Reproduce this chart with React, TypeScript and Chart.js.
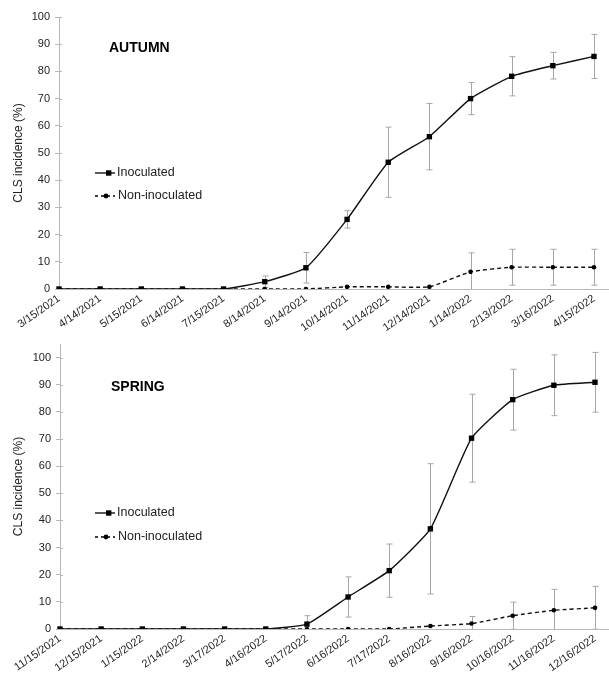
import React, { useEffect, useRef } from 'react';
import { Chart, registerables } from 'chart.js';

Chart.register(...registerables);

// ---- Data ----
const autumnDates = ['3/15/2021', '4/14/2021', '5/15/2021', '6/14/2021', '7/15/2021', '8/14/2021', '9/14/2021', '10/14/2021', '11/14/2021', '12/14/2021', '1/14/2022', '2/13/2022', '3/16/2022', '4/15/2022'];
const autumnInoculated = [0, 0, 0, 0, 0, 2.7, 7.8, 25.6, 46.6, 56.0, 70.0, 78.2, 82.1, 85.5];
const autumnInoculatedErr = [0, 0, 0, 0, 0, 2.1, 5.6, 3.2, 12.9, 12.2, 5.9, 7.2, 4.9, 8.1];
const autumnNonInoculated = [0, 0, 0, 0, 0, 0, 0, 0.8, 0.8, 0.8, 6.3, 8.0, 8.0, 8.0];
const autumnNonInoculatedErr = [0, 0, 0, 0, 0, 0, 0, 0, 0, 0, 7.0, 6.6, 6.6, 6.6];

const springDates = ['11/15/2021', '12/15/2021', '1/15/2022', '2/14/2022', '3/17/2022', '4/16/2022', '5/17/2022', '6/16/2022', '7/17/2022', '8/16/2022', '9/16/2022', '10/16/2022', '11/16/2022', '12/16/2022'];
const springInoculated = [0, 0, 0, 0, 0, 0, 1.8, 11.8, 21.5, 36.9, 70.3, 84.5, 89.8, 90.9];
const springInoculatedErr = [0, 0, 0, 0, 0, 0, 3.1, 7.4, 9.8, 24.0, 16.2, 11.2, 11.2, 11.0];
const springNonInoculated = [0, 0, 0, 0, 0, 0, 0, 0, 0, 1.1, 2.0, 4.9, 6.9, 7.8];
const springNonInoculatedErr = [0, 0, 0, 0, 0, 0, 0, 0, 0, 0, 2.6, 5.0, 7.7, 7.9];

const yAxisTitle = 'CLS incidence (%)';
const seriesNames = ['Inoculated', 'Non-inoculated'];

const FONT = '"Liberation Sans", Arial, Helvetica, sans-serif';
const TEXT = '#222222';
const AXIS = '#b8b8b8';
const ERR = '#a6a6a6';

const errorBarsPlugin = {
  id: 'errorBars',
  beforeDatasetsDraw(chart: any) {
    const { ctx, chartArea, scales } = chart;
    const ys = scales.y;
    ctx.save();
    ctx.beginPath();
    ctx.rect(chartArea.left - 10, chartArea.top - 2, chartArea.right - chartArea.left + 20, chartArea.bottom - chartArea.top + 2);
    ctx.clip();
    ctx.strokeStyle = ERR;
    ctx.lineWidth = 1;
    chart.data.datasets.forEach((ds: any, i: number) => {
      const meta = chart.getDatasetMeta(i);
      const errs: number[] = ds.errors || [];
      meta.data.forEach((pt: any, j: number) => {
        const e = errs[j];
        if (!e) return;
        const v = ds.data[j];
        const x = Math.round(pt.x) + 0.5;
        const yt = ys.getPixelForValue(v + e);
        const yb = ys.getPixelForValue(v - e);
        ctx.beginPath();
        ctx.moveTo(x, yt);
        ctx.lineTo(x, yb);
        ctx.moveTo(x - 3, yt);
        ctx.lineTo(x + 3, yt);
        ctx.moveTo(x - 3, yb);
        ctx.lineTo(x + 3, yb);
        ctx.stroke();
      });
    });
    ctx.restore();
  },
};

const axisExtrasPlugin = {
  id: 'axisExtras',
  beforeDatasetsDraw(chart: any) {
    const { ctx, chartArea, scales, width } = chart;
    ctx.save();
    ctx.strokeStyle = AXIS;
    ctx.lineWidth = 1;
    // extend x axis line to the right edge
    const yb = Math.round(chartArea.bottom) + 0.5;
    ctx.beginPath();
    ctx.moveTo(chartArea.right, yb);
    ctx.lineTo(width, yb);
    // inner halves of y tick marks
    scales.y.ticks.forEach((t: any) => {
      const y = Math.round(scales.y.getPixelForValue(t.value)) + 0.5;
      ctx.moveTo(chartArea.left, y);
      ctx.lineTo(chartArea.left + 3, y);
    });
    ctx.stroke();
    ctx.restore();
  },
};

const annotationPlugin = {
  id: 'panelAnnotations',
  afterDraw(chart: any) {
    const o = chart.options.plugins.panelAnnotations;
    if (!o) return;
    const { ctx } = chart;
    ctx.save();
    // Panel title
    ctx.fillStyle = '#000';
    ctx.font = `bold 14px ${FONT}`;
    ctx.textAlign = 'left';
    ctx.textBaseline = 'middle';
    ctx.fillText(o.title, o.titleX, o.titleY);
    // Legend
    ctx.font = `12.5px ${FONT}`;
    ctx.fillStyle = TEXT;
    ctx.strokeStyle = '#000';
    ctx.lineWidth = 1.3;
    // Inoculated
    ctx.beginPath();
    ctx.moveTo(o.lx0, o.ly1);
    ctx.lineTo(o.lx1, o.ly1);
    ctx.stroke();
    ctx.fillStyle = '#000';
    ctx.fillRect(o.lx0 + 11, o.ly1 - 2.7, 5.4, 5.4);
    ctx.fillStyle = TEXT;
    ctx.fillText(seriesNames[0], o.lx1 + 2, o.ly1);
    // Non-inoculated
    ctx.setLineDash([3, 3]);
    ctx.beginPath();
    ctx.moveTo(o.lx0, o.ly2);
    ctx.lineTo(o.lx1, o.ly2);
    ctx.stroke();
    ctx.setLineDash([]);
    ctx.fillStyle = '#000';
    ctx.beginPath();
    ctx.arc(o.lx0 + 11, o.ly2, 2.4, 0, Math.PI * 2);
    ctx.fill();
    ctx.fillStyle = TEXT;
    ctx.fillText(seriesNames[1], o.lx1 + 3, o.ly2);
    ctx.restore();
  },
};

type PanelProps = {
  labels: string[];
  inoc: number[];
  inocErr: number[];
  non: number[];
  nonErr: number[];
  title: string;
  padTop: number;
  padRight: number;
  yWidth: number;
  xHeight: number;
  yMax: number;
  titleX: number;
  titleY: number;
  ly1: number;
  ly2: number;
};

function Panel(p: PanelProps) {
  const ref = useRef<HTMLCanvasElement | null>(null);
  useEffect(() => {
    if (!ref.current) return;
    const chart = new Chart(ref.current, {
      type: 'line',
      data: {
        labels: p.labels,
        datasets: [
          {
            label: seriesNames[0],
            data: p.inoc,
            errors: p.inocErr,
            borderColor: '#111',
            backgroundColor: '#000',
            borderWidth: 1.4,
            pointStyle: 'rect',
            pointRadius: 3.8,
            pointBorderWidth: 0,
            tension: 0.15,
          } as any,
          {
            label: seriesNames[1],
            data: p.non,
            errors: p.nonErr,
            borderColor: '#111',
            backgroundColor: '#000',
            borderWidth: 1.4,
            borderDash: [4, 3],
            pointStyle: 'circle',
            pointRadius: 2.3,
            pointBorderWidth: 0,
            tension: 0.15,
          } as any,
        ],
      },
      options: {
        responsive: false,
        animation: false,
        devicePixelRatio: 1,
        layout: { padding: { top: p.padTop, right: p.padRight, left: 0, bottom: 0 } },
        plugins: {
          legend: { display: false },
          tooltip: { enabled: false },
          panelAnnotations: {
            title: p.title,
            titleX: p.titleX,
            titleY: p.titleY,
            lx0: 95,
            lx1: 115,
            ly1: p.ly1,
            ly2: p.ly2,
          },
        } as any,
        scales: {
          x: {
            type: 'category',
            offset: false,
            grid: { drawOnChartArea: false, drawTicks: false },
            border: { color: AXIS, width: 1 },
            ticks: {
              autoSkip: false,
              minRotation: 35,
              maxRotation: 35,
              padding: 3,
              color: TEXT,
              font: { family: FONT, size: 11 },
            },
            afterFit: (s: any) => {
              s.height = p.xHeight;
              s.paddingLeft = 0;
              s.paddingRight = 0;
            },
          },
          y: {
            min: 0,
            max: p.yMax,
            grid: { drawOnChartArea: false, drawTicks: true, tickLength: 4, color: AXIS },
            border: { color: AXIS, width: 1 },
            ticks: {
              stepSize: 10,
              padding: 5,
              color: TEXT,
              font: { family: FONT, size: 11 },
            },
            afterBuildTicks: (s: any) => {
              s.ticks = s.ticks.filter((t: any) => t.value <= 100);
            },
            title: {
              display: true,
              text: yAxisTitle,
              color: TEXT,
              font: { family: FONT, size: 12 },
              padding: { top: 11, bottom: 0 },
            },
            afterFit: (s: any) => {
              s.width = p.yWidth;
              s.paddingTop = 0;
              s.paddingBottom = 0;
            },
          },
        },
      } as any,
      plugins: [errorBarsPlugin, axisExtrasPlugin, annotationPlugin],
    });
    return () => chart.destroy();
  }, []);
  return <canvas ref={ref} width={609} height={338} style={{ display: 'block', width: 609, height: 338 }} />;
}

export default function App() {
  return (
    <div style={{ position: 'absolute', left: 0, top: 0, width: 609, height: 676, background: '#fff' }}>
      <Panel
        labels={autumnDates}
        inoc={autumnInoculated}
        inocErr={autumnInoculatedErr}
        non={autumnNonInoculated}
        nonErr={autumnNonInoculatedErr}
        title="AUTUMN"
        padTop={17}
        padRight={15}
        yWidth={59}
        xHeight={49}
        yMax={100}
        titleX={109}
        titleY={48}
        ly1={173}
        ly2={196}
      />
      <Panel
        labels={springDates}
        inoc={springInoculated}
        inocErr={springInoculatedErr}
        non={springNonInoculated}
        nonErr={springNonInoculatedErr}
        title="SPRING"
        padTop={6}
        padRight={14}
        yWidth={60}
        xHeight={47}
        yMax={105}
        titleX={111}
        titleY={49}
        ly1={175}
        ly2={199}
      />
    </div>
  );
}
